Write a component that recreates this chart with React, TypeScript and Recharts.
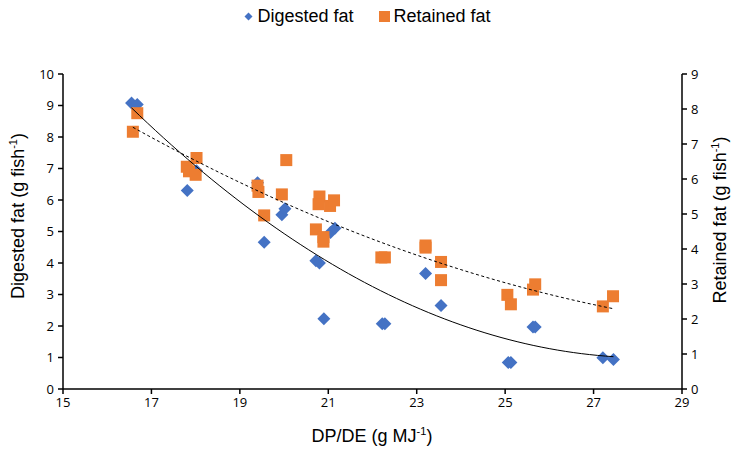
import { Legend, Scatter, ScatterChart, XAxis, YAxis } from "recharts";

// DP/DE ratio (g MJ-1) and digested fat (g fish-1)
const digestedX = [
  16.55, 16.68, 17.81, 18.02, 19.4, 19.55, 19.95, 20.02, 20.72, 20.8, 20.9, 21.05,
  21.15, 22.22, 22.28, 23.2, 23.55, 25.07, 25.13, 25.63, 25.68, 27.21, 27.45,
];
const digestedY = [
  9.08, 9.03, 6.3, 6.93, 6.55, 4.66, 5.53, 5.72, 4.07, 4.0, 2.23, 4.97,
  5.1, 2.07, 2.07, 3.67, 2.65, 0.84, 0.84, 1.97, 1.97, 0.99, 0.94,
];

// DP/DE ratio (g MJ-1) and retained fat (g fish-1)
const retainedX = [
  16.58, 16.68, 17.8, 17.85, 18.02, 18.0, 19.4, 19.42, 19.55, 19.95, 20.05, 20.72,
  20.8, 20.78, 20.89, 20.89, 21.04, 21.13, 22.2, 22.28, 23.2, 23.2, 23.55, 23.55,
  25.05, 25.13, 25.63, 25.68, 27.21, 27.44,
];
const retainedY = [
  7.35, 7.88, 6.35, 6.22, 6.6, 6.12, 5.81, 5.63, 4.96, 5.56, 6.54, 4.56,
  5.5, 5.28, 4.34, 4.21, 5.23, 5.39, 3.76, 3.76, 4.1, 4.04, 3.63, 3.11,
  2.69, 2.42, 2.84, 2.99, 2.36, 2.65,
];

const xTicks = [15, 17, 19, 21, 23, 25, 27, 29];
const leftTicks = [0, 1, 2, 3, 4, 5, 6, 7, 8, 9, 10];
const rightTicks = [0, 1, 2, 3, 4, 5, 6, 7, 8, 9];

const BLUE = "#4472C4";
const ORANGE = "#ED7D31";
const TICK_FONT = { fill: "#000", fontSize: 13, fontFamily: "'Open Sans', sans-serif" };
const TITLE_FONT = "'Liberation Sans', Arial, sans-serif";

type Pt = { x: number; y: number };

const zip = (xs: number[], ys: number[]): Pt[] => xs.map((x, i) => ({ x, y: ys[i] }));

// least-squares quadratic, like a spreadsheet polynomial trendline of order 2
function quadFit(xs: number[], ys: number[]) {
  const s = [0, 0, 0, 0, 0];
  const t = [0, 0, 0];
  xs.forEach((x, i) => {
    for (let k = 0; k < 5; k++) s[k] += x ** k;
    for (let k = 0; k < 3; k++) t[k] += ys[i] * x ** k;
  });
  const m = [
    [s[0], s[1], s[2], t[0]],
    [s[1], s[2], s[3], t[1]],
    [s[2], s[3], s[4], t[2]],
  ];
  for (let c = 0; c < 3; c++) {
    for (let r = c + 1; r < 3; r++) {
      const f = m[r][c] / m[c][c];
      for (let k = c; k < 4; k++) m[r][k] -= f * m[c][k];
    }
  }
  const coef = [0, 0, 0];
  for (let r = 2; r >= 0; r--) {
    let v = m[r][3];
    for (let k = r + 1; k < 3; k++) v -= m[r][k] * coef[k];
    coef[r] = v / m[r][r];
  }
  return (x: number) => coef[0] + coef[1] * x + coef[2] * x * x;
}

function trend(xs: number[], ys: number[]): Pt[] {
  const f = quadFit(xs, ys);
  const lo = Math.min(...xs);
  const hi = Math.max(...xs);
  const n = 60;
  return Array.from({ length: n + 1 }, (_, i) => {
    const x = lo + ((hi - lo) * i) / n;
    return { x, y: f(x) };
  });
}

const digested = zip(digestedX, digestedY);
const retained = zip(retainedX, retainedY);
const digestedTrend = trend(digestedX, digestedY);
const retainedTrend = trend(retainedX, retainedY);

const Diamond = (props: any) => {
  const { cx, cy } = props;
  const r = 6.5;
  return <polygon points={`${cx},${cy - r} ${cx + r},${cy} ${cx},${cy + r} ${cx - r},${cy}`} fill={BLUE} />;
};

const Square = (props: any) => {
  const { cx, cy } = props;
  return <rect x={cx - 6} y={cy - 6} width={12} height={12} fill={ORANGE} />;
};

const NoDot = () => <g />;

const LegendBox = () => (
  <div
    style={{
      display: "flex",
      justifyContent: "center",
      alignItems: "center",
      gap: 26,
      fontFamily: TITLE_FONT,
      fontSize: 18,
      color: "#000",
      paddingLeft: 4,
    }}
  >
    <span style={{ display: "flex", alignItems: "center" }}>
      <svg width={9} height={9} style={{ marginRight: 4 }}>
        <polygon points="4.5,0.5 8.5,4.5 4.5,8.5 0.5,4.5" fill={BLUE} />
      </svg>
      Digested fat
    </span>
    <span style={{ display: "flex", alignItems: "center" }}>
      <svg width={11} height={11} style={{ marginRight: 3 }}>
        <rect x={0} y={0} width={11} height={11} fill={ORANGE} />
      </svg>
      Retained fat
    </span>
  </div>
);

function AxisTitle({ x, y, rotate, main, tail }: { x: number; y: number; rotate?: number; main: string; tail: string }) {
  return (
    <text
      x={x}
      y={y}
      textAnchor="middle"
      fontFamily={TITLE_FONT}
      fontSize={18}
      fill="#000"
      transform={rotate ? `rotate(${rotate} ${x} ${y})` : undefined}
    >
      {main}
      <tspan dy={-7} fontSize={11}>
        -1
      </tspan>
      <tspan dy={7}>{tail}</tspan>
    </text>
  );
}

export default function App() {
  const axisStroke = { stroke: "#000", strokeWidth: 1.5 };
  return (
    <div style={{ position: "absolute", left: 0, top: 0, width: 731, height: 450, background: "#fff" }}>
      <ScatterChart width={731} height={450} margin={{ top: 53, right: 0, bottom: 16, left: 0 }}>
        <XAxis
          type="number"
          dataKey="x"
          domain={[15, 29]}
          ticks={xTicks}
          height={45}
          tickSize={5}
          axisLine={axisStroke}
          tickLine={axisStroke}
          tick={TICK_FONT}
          tickMargin={4}
          label={{ content: () => <AxisTitle x={372} y={442} main="DP/DE (g MJ" tail=")" /> }}
        />
        <YAxis
          yAxisId="left"
          type="number"
          dataKey="y"
          domain={[0, 10]}
          ticks={leftTicks}
          width={63}
          tickSize={5}
          axisLine={axisStroke}
          tickLine={axisStroke}
          tick={TICK_FONT}
          tickMargin={4}
          label={{ content: () => <AxisTitle x={24} y={216} rotate={-90} main="Digested fat (g fish" tail=")" /> }}
        />
        <YAxis
          yAxisId="right"
          orientation="right"
          type="number"
          dataKey="y"
          domain={[0, 9]}
          ticks={rightTicks}
          width={49}
          tickSize={5}
          axisLine={axisStroke}
          tickLine={axisStroke}
          tick={TICK_FONT}
          tickMargin={4}
          label={{ content: () => <AxisTitle x={726} y={220} rotate={-90} main="Retained fat (g fish" tail=")" /> }}
        />
        <Legend content={LegendBox} verticalAlign="top" wrapperStyle={{ top: 6, left: 0, width: 731 }} />
        <Scatter name="Digested fat" yAxisId="left" data={digested} shape={Diamond} isAnimationActive={false} />
        <Scatter name="Retained fat" yAxisId="right" data={retained} shape={Square} isAnimationActive={false} />
        <Scatter
          yAxisId="left"
          data={digestedTrend}
          line={{ stroke: "#000", strokeWidth: 1 }}
          shape={NoDot}
          legendType="none"
          isAnimationActive={false}
        />
        <Scatter
          yAxisId="right"
          data={retainedTrend}
          line={{ stroke: "#000", strokeWidth: 1, strokeDasharray: "3 2.5" }}
          shape={NoDot}
          legendType="none"
          isAnimationActive={false}
        />
      </ScatterChart>
    </div>
  );
}
